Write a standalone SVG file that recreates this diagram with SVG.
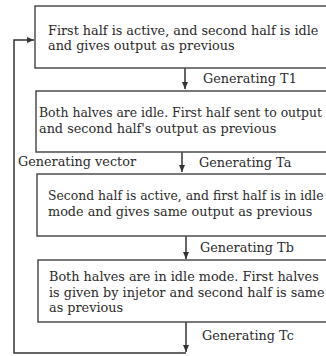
<svg xmlns="http://www.w3.org/2000/svg" width="326" height="356" viewBox="0 0 326 356">
<defs>
<marker id="ah" markerWidth="8" markerHeight="8" refX="7" refY="4" orient="auto" markerUnits="userSpaceOnUse">
<path d="M0,1 L7,4 L0,7 Z" fill="#333"/>
</marker>
<style>
.box{fill:#fff;stroke:#4d4d4d;stroke-width:1.5}
.t{font-family:"DejaVu Serif","Liberation Serif",serif;font-size:12.8px;fill:#2b2b2b}
.s{font-size:12.4px}
.c{fill:none;stroke:#333;stroke-width:1.5}
</style>
</defs>
<rect width="326" height="356" fill="#fff"/>
<g id="connectors">
<path class="c" d="M185,68 V89" marker-end="url(#ah)"/>
<path class="c" d="M182,152 V172" marker-end="url(#ah)"/>
<path class="c" d="M186,236 V259" marker-end="url(#ah)"/>
<path class="c" d="M186,322 V352" marker-end="url(#ah)"/>
<path class="c" d="M186,353 H14 V40 H34" marker-end="url(#ah)"/>
<text class="t" x="203" y="83">Generating T1</text>
<text class="t" x="18" y="166">Generating vector</text>
<text class="t" x="199" y="167">Generating Ta</text>
<text class="t" x="200" y="252">Generating Tb</text>
<text class="t" x="202" y="340">Generating Tc</text>
</g>
<g id="node1">
<rect class="box" x="35" y="6" width="295" height="62"/>
<text class="t" x="48" y="35">First half is active, and second half is idle</text>
<text class="t" x="48" y="50">and gives output as previous</text>
</g>
<g id="node2">
<rect class="box" x="36" y="91" width="295" height="61"/>
<text class="t s" x="39" y="117">Both halves are idle. First half sent to output</text>
<text class="t" x="39" y="133">and second half's output as previous</text>
</g>
<g id="node3">
<rect class="box" x="37" y="174" width="295" height="62"/>
<text class="t s" x="48" y="200">Second half is active, and first half is in idle</text>
<text class="t" x="48" y="216">mode and gives same output as previous</text>
</g>
<g id="node4">
<rect class="box" x="38" y="260" width="295" height="62"/>
<text class="t" x="49" y="281">Both halves are in idle mode. First halves</text>
<text class="t" x="49" y="297">is given by injetor and second half is same</text>
<text class="t" x="49" y="312">as previous</text>
</g>
</svg>
